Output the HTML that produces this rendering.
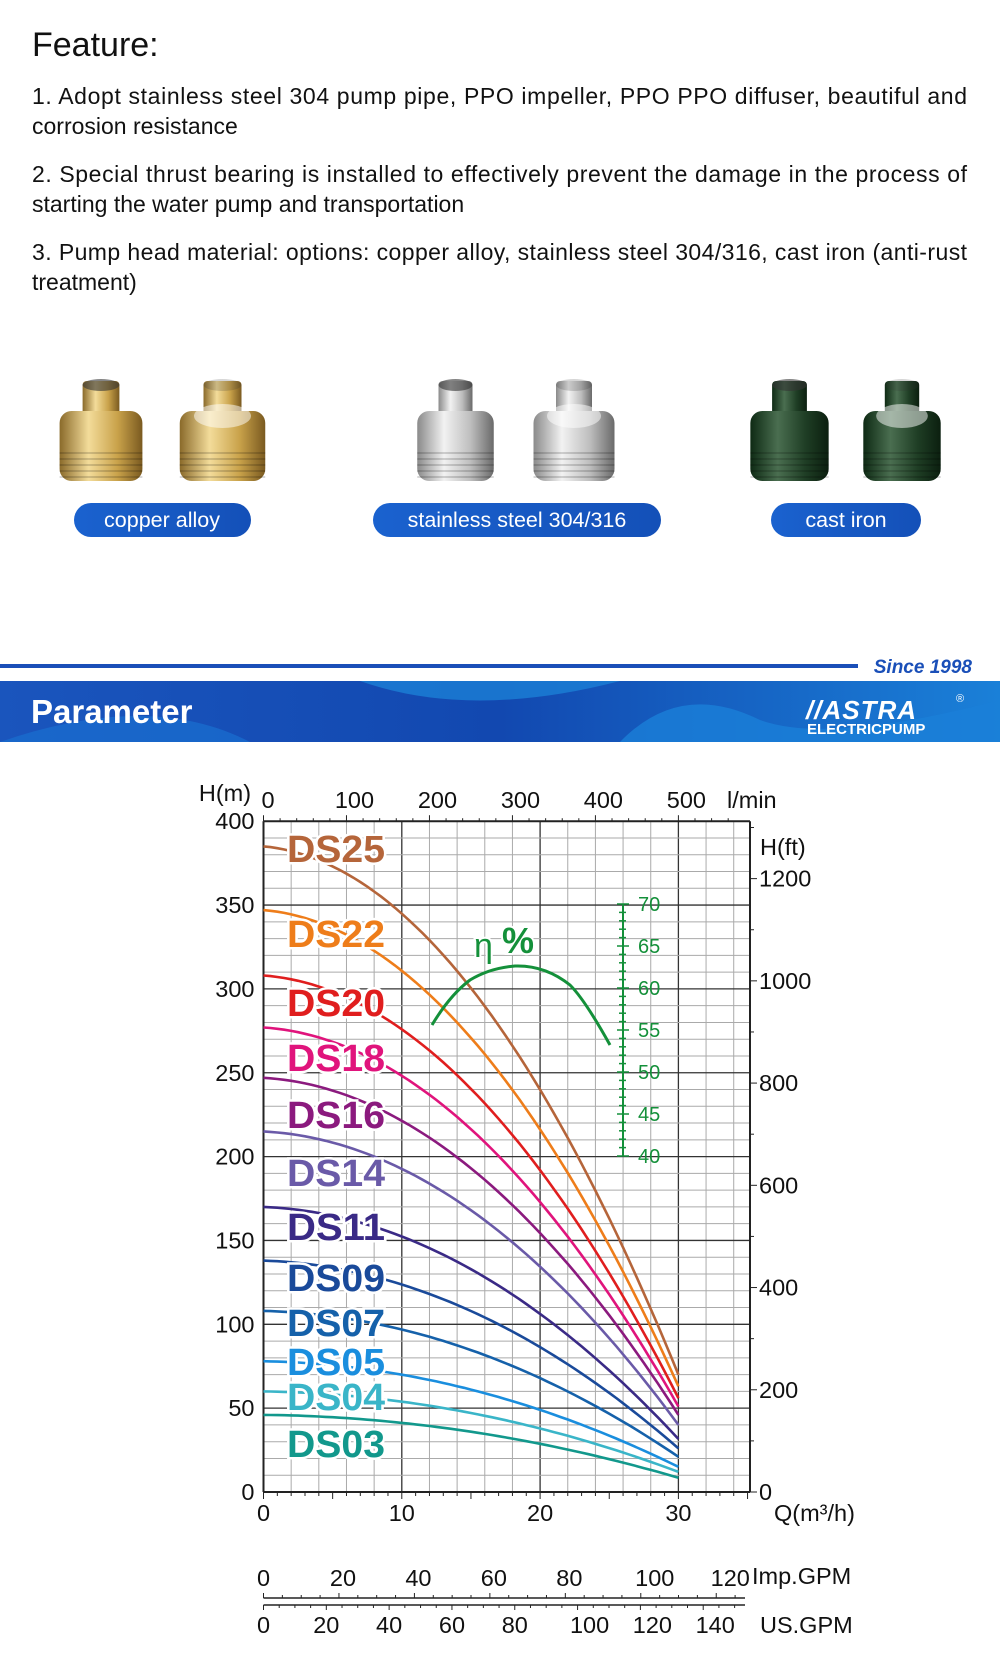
<!DOCTYPE html>
<html><head><meta charset="utf-8"><style>
body{margin:0;background:#fff;width:1000px;height:1659px;overflow:hidden}
svg{display:block}
</style></head><body>
<svg id="s" width="1000" height="1659" viewBox="0 0 1000 1659" xmlns="http://www.w3.org/2000/svg" font-family="Liberation Sans, Arial, sans-serif">
<defs>
<linearGradient id="cu" x1="0" x2="1"><stop offset="0" stop-color="#8a6a2a"/><stop offset=".35" stop-color="#f3dc9a"/><stop offset=".7" stop-color="#c9a24a"/><stop offset="1" stop-color="#7a5a20"/></linearGradient>
<linearGradient id="ss" x1="0" x2="1"><stop offset="0" stop-color="#8a8a8a"/><stop offset=".35" stop-color="#f2f2f2"/><stop offset=".7" stop-color="#bdbdbd"/><stop offset="1" stop-color="#6a6a6a"/></linearGradient>
<linearGradient id="ci" x1="0" x2="1"><stop offset="0" stop-color="#0e2a14"/><stop offset=".35" stop-color="#4a6e50"/><stop offset=".7" stop-color="#1f3e25"/><stop offset="1" stop-color="#0b1f0f"/></linearGradient>
<linearGradient id="bn" x1="0" x2="1"><stop offset="0" stop-color="#1a55bd"/><stop offset=".5" stop-color="#1248b0"/><stop offset="1" stop-color="#1a80d8"/></linearGradient>
<linearGradient id="pl" x1="0" x2="1"><stop offset="0" stop-color="#1a62cf"/><stop offset="1" stop-color="#1450b8"/></linearGradient>
</defs>
<text x="32" y="56" font-size="34" fill="#111">Feature:</text>
<g font-size="23" fill="#111">
<text x="32" y="104" textLength="935" lengthAdjust="spacing">1. Adopt  stainless steel 304 pump pipe, PPO impeller, PPO PPO diffuser, beautiful and</text>
<text x="32" y="134">corrosion resistance</text>
<text x="32" y="182" textLength="935" lengthAdjust="spacing">2. Special thrust bearing is installed to effectively prevent the damage in the process of</text>
<text x="32" y="212">starting the water pump and transportation</text>
<text x="32" y="260" textLength="935" lengthAdjust="spacing">3. Pump head material: options: copper alloy, stainless steel 304/316, cast iron (anti-rust</text>
<text x="32" y="290">treatment)</text>
</g>
<g id="parts"></g>
<g font-size="21.5" fill="#fff" text-anchor="middle">
<rect x="74" y="503" width="177" height="34" rx="17" fill="url(#pl)"/><text x="162" y="527">copper alloy</text>
<rect x="373" y="503" width="288" height="34" rx="17" fill="url(#pl)"/><text x="517" y="527">stainless steel 304/316</text>
<rect x="771" y="503" width="150" height="34" rx="17" fill="url(#pl)"/><text x="846" y="527">cast iron</text>
</g>
<rect x="0" y="664" width="858" height="4" fill="#1a4fb8"/>
<text x="972" y="673" font-size="19" font-weight="bold" font-style="italic" fill="#1a4fb8" text-anchor="end">Since 1998</text>
<rect x="0" y="681" width="1000" height="61" fill="url(#bn)"/>
<path d="M360 681 Q470 720 620 681Z" fill="#1b7fd6" opacity=".8"/>
<path d="M0 742 Q150 690 250 742Z" fill="#1a6fd0" opacity=".7"/>
<path d="M620 742 Q680 680 760 720 Q830 745 1000 700 L1000 742Z" fill="#1a7fd8" opacity=".8"/>
<text x="31" y="723" font-size="33" font-weight="bold" fill="#fff">Parameter</text>
<text x="806" y="719" font-size="26" font-weight="bold" font-style="italic" fill="#fff" letter-spacing="1">//ASTRA</text>
<text x="807" y="734" font-size="15" font-weight="bold" fill="#fff">ELECTRICPUMP</text>
<text x="956" y="702" font-size="11" fill="#fff">®</text>
<g id="chart"></g>
</svg>
<script>
var NS="http://www.w3.org/2000/svg";
function el(p,t,a,txt){var e=document.createElementNS(NS,t);for(var k in a)e.setAttribute(k,a[k]);if(txt!==undefined)e.textContent=txt;p.appendChild(e);return e;}
var P=document.getElementById('parts');
function part(x,w,g,cage){
 var y=381,h=100;
 el(P,'rect',{x:x+w*0.3,y:y,width:w*0.4,height:h*0.35,rx:4,fill:'url(#'+g+')'});
 el(P,'ellipse',{cx:x+w/2,cy:y+4,rx:w*0.2,ry:6,fill:'#333',opacity:cage?0.2:0.6});
 el(P,'rect',{x:x+w*0.05,y:y+h*0.3,width:w*0.9,height:h*0.7,rx:12,fill:'url(#'+g+')'});
 if(cage){el(P,'ellipse',{cx:x+w/2,cy:y+h*0.35,rx:w*0.3,ry:12,fill:'#fff',opacity:.5});}
 for(var i=0;i<5;i++)el(P,'line',{x1:x+w*0.05,x2:x+w*0.95,y1:y+h*0.72+i*6,y2:y+h*0.72+i*6,stroke:'#000',opacity:.15,'stroke-width':2});
}
part(55,92,'cu',0);part(175,95,'cu',1);
part(413,85,'ss',0);part(529,90,'ss',1);
part(746,87,'ci',0);part(859,86,'ci',1);
var C=document.getElementById('chart');
var X0=263.5,KX=13.83,Y0=1492,KY=1.677,XR=750;
function X(q){return X0+q*KX}function Y(h){return Y0-h*KY}
for(var q=2;q<=34;q+=2){var maj=q%10==0;el(C,'line',{x1:X(q),x2:X(q),y1:Y(400),y2:Y0,stroke:maj?'#333':'#aaa','stroke-width':maj?1.3:1});}
for(var h=10;h<400;h+=10){var maj=h%50==0;el(C,'line',{x1:X0,x2:XR,y1:Y(h),y2:Y(h),stroke:maj?'#333':'#aaa','stroke-width':maj?1.3:1});}
el(C,'line',{x1:X0,x2:X0,y1:Y(400),y2:Y0,stroke:'#222','stroke-width':2});
el(C,'line',{x1:XR,x2:XR,y1:Y(400),y2:Y0,stroke:'#222','stroke-width':2});
el(C,'line',{x1:X0,x2:XR,y1:Y0,y2:Y0,stroke:'#222','stroke-width':2});
el(C,'line',{x1:X0,x2:XR,y1:Y(400),y2:Y(400),stroke:'#222','stroke-width':2});
for(var q=0;q<=35;q++){el(C,'line',{x1:X(q),x2:X(q),y1:Y0,y2:Y0+(q%5==0?7:4),stroke:'#222'});}
for(var l=0;l<=560;l+=20){var xx=X(l*0.06);if(xx>XR)break;el(C,'line',{x1:xx,x2:xx,y1:Y(400),y2:Y(400)-(l%100==0?6:3),stroke:'#222'});}
for(var f=0;f<=1300;f+=100){var yy=Y(f*0.3048);if(yy<Y(400))break;el(C,'line',{x1:XR,x2:XR+(f%200==0?7:4),y1:yy,y2:yy,stroke:'#222'});}
function tx(x,y,s,a){var o={x:x,y:y,"font-size":23.5,fill:"#111","text-anchor":a||"middle"};el(C,'text',o,s);}
for(var h=0;h<=400;h+=50)tx(X0-9,Y(h)+8,String(h),'end');
tx(225,801,'H(m)','middle');
[0,100,200,300,400,500].forEach(function(l){tx(X(l*0.06)+(l==0?-2:8),808,String(l),l==0?'start':'middle');});
tx(727,808,'l/min','start');
tx(760,855,'H(ft)','start');
for(var f=0;f<=1200;f+=200)tx(759,Y(f*0.3048)+8,String(f),'start');
[0,10,20,30].forEach(function(q){tx(X(q),1521,String(q));});
el(C,'text',{x:774,y:1521,"font-size":23.5,fill:"#111"},'Q(m³/h)');
el(C,'line',{x1:X0,x2:745,y1:1598,y2:1598,stroke:'#222','stroke-width':1.5});
el(C,'line',{x1:X0,x2:745,y1:1605,y2:1605,stroke:'#222','stroke-width':1.5});
var pI=0.2728*KX, pU=0.2271*KX;
for(var g=0;g*pI+X0<=745;g+=5){el(C,'line',{x1:X0+g*pI,x2:X0+g*pI,y1:1598,y2:1598-(g%20==0?5:3),stroke:'#222'});}
for(var g=0;g*pU+X0<=745;g+=5){el(C,'line',{x1:X0+g*pU,x2:X0+g*pU,y1:1605,y2:1605+(g%20==0?5:3),stroke:'#222'});}
for(var g=0;g<=120;g+=20)tx(X0+g*pI+(g==0?0:4)+(g>=100?10:0),1586,String(g));
tx(752,1584,'Imp.GPM','start');
for(var g=0;g<=140;g+=20)tx(X0+g*pU+(g>=100?12:0),1633,String(g));
tx(760,1633,'US.GPM','start');
var S=[["DS25",385,70,"#b5653a",862],["DS22",347,63,"#ee7d1a",947],["DS20",308,56,"#e01e1e",1016],["DS18",277,51,"#e0147c",1071],["DS16",247,46,"#8b1a7e",1128],["DS14",215,40,"#6a5aa8",1186],["DS11",170,31.6,"#3a2a86",1240],["DS09",138,26,"#1a4a9a",1291],["DS07",108,21,"#1561aa",1336],["DS05",78,15,"#1a8ede",1375],["DS04",60,12,"#3ab5c8",1410],["DS03",46,8.5,"#12988c",1457]];
S.forEach(function(s){
 var H0=s[1],r=s[2]/H0,c=(1-r-0.06)/900,d="";
 for(var q=0;q<=30.01;q+=0.5){var h=H0*(1-0.002*q-c*q*q);d+=(q==0?"M":"L")+X(q).toFixed(1)+" "+Y(h).toFixed(1);}
 el(C,'path',{d:d,fill:'none',stroke:s[3],'stroke-width':2.6});
});
S.forEach(function(s){
 el(C,'text',{x:287,y:s[4],"font-size":38,"font-weight":"bold",fill:s[3],stroke:"#fff","stroke-width":5,"paint-order":"stroke",textLength:"98",lengthAdjust:"spacingAndGlyphs"},s[0]);
});
var G="#14903a";
var ex=623,eTop=904,eBot=1156;
el(C,'line',{x1:ex,x2:ex,y1:eTop,y2:eBot,stroke:G,'stroke-width':2});
for(var e=40;e<=70;e++){var yy=eBot-(e-40)*(eBot-eTop)/30;el(C,'line',{x1:ex-(e%5==0?6:4),x2:ex+(e%5==0?6:3),y1:yy,y2:yy,stroke:G,'stroke-width':1.5});
 if(e%5==0)el(C,'text',{x:ex+15,y:yy+7,"font-size":20,fill:G},String(e));}
el(C,'path',{d:"M432 1025 Q450 995 470 980 Q490 968 515 966 Q545 965 570 985 Q585 1000 610 1045",fill:"none",stroke:G,'stroke-width':3});
el(C,'text',{x:474,y:957,"font-size":34,fill:G,stroke:"#fff","stroke-width":4,"paint-order":"stroke"},'η');
el(C,'text',{x:502,y:953,"font-size":36,"font-weight":"bold",fill:G,stroke:"#fff","stroke-width":4,"paint-order":"stroke"},'%');
</script>
</body></html>
